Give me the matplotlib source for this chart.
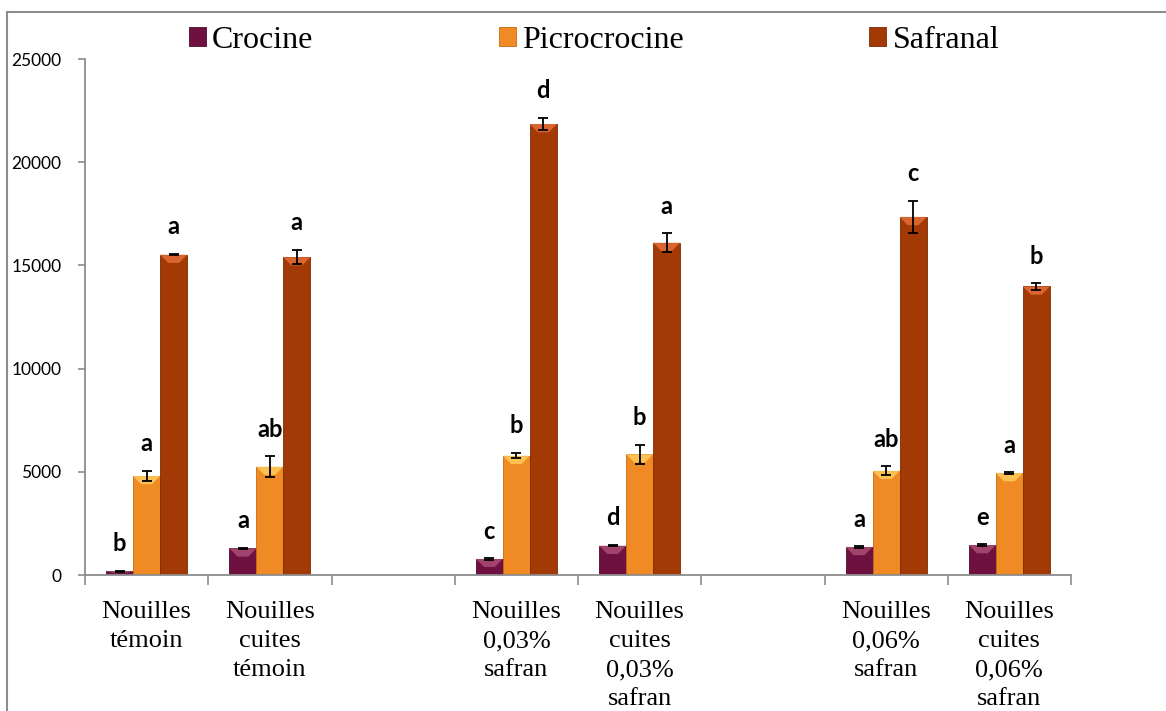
import matplotlib
matplotlib.use("Agg")
import matplotlib.pyplot as plt
import numpy as np
from matplotlib.lines import Line2D
from matplotlib.patches import Patch, Polygon
from matplotlib.ticker import FixedLocator
from matplotlib import font_manager

# ---------------- data ----------------
categories = ["Nouilles\ntémoin", "Nouilles\ncuites\ntémoin", "",
              "Nouilles\n0,03%\nsafran", "Nouilles\ncuites\n0,03%\nsafran", "",
              "Nouilles\n0,06%\nsafran", "Nouilles\ncuites\n0,06%\nsafran"]
series_names = ["Crocine", "Picrocrocine", "Safranal"]

crocine = [180, 1290, np.nan, 780, 1420, np.nan, 1360, 1450]
picrocrocine = [4800, 5250, np.nan, 5780, 5850, np.nan, 5050, 4940]
safranal = [15520, 15400, np.nan, 21850, 16100, np.nan, 17350, 13980]

crocine_err = [30, 30, np.nan, 30, 30, np.nan, 30, 30]
picrocrocine_err = [260, 500, np.nan, 130, 470, np.nan, 210, 30]
safranal_err = [30, 350, np.nan, 300, 450, np.nan, 780, 150]

crocine_letters = ["b", "a", "", "c", "d", "", "a", "e"]
picrocrocine_letters = ["a", "ab", "", "b", "b", "", "ab", "a"]
safranal_letters = ["a", "a", "", "d", "a", "", "c", "b"]

yticks = [0, 5000, 10000, 15000, 20000, 25000]

# ---------------- fonts ----------------
serif_candidates = ["Liberation Serif", "Times New Roman", "DejaVu Serif"]
available = {f.name for f in font_manager.fontManager.ttflist}
serif_font = next((f for f in serif_candidates if f in available), "serif")
sans_font = "Lato" if "Lato" in available else "DejaVu Sans"

# ---------------- style ----------------
colors = ["#6E1040", "#F08A24", "#A33A06"]
tops = ["#B0507A", "#FFD060", "#E8703A"]
edge = ["#4E0A2C", "#C86A10", "#7A2A04"]

W, H = 1166, 711
fig = plt.figure(figsize=(W / 100, H / 100), dpi=100)
ax = fig.add_axes([85 / W, 1 - 575 / H, (1071 - 85) / W, (575 - 59) / H])

values = [crocine, picrocrocine, safranal]
errs = [crocine_err, picrocrocine_err, safranal_err]
letters = [crocine_letters, picrocrocine_letters, safranal_letters]

x = np.arange(len(categories))
bw = 0.219
for i, (vals, er, lab) in enumerate(zip(values, errs, letters)):
    xs = x + (i - 1) * bw
    bars = ax.bar(xs, vals, width=bw, color=colors[i], edgecolor=edge[i],
                  linewidth=0.6, zorder=2)
    ax.errorbar(xs, vals, yerr=er, fmt="none", ecolor="black", elinewidth=1.3,
                capsize=3.8, capthick=1.3, zorder=4)
    # bevel highlight at the top of each bar
    for b, v in zip(bars, vals):
        if np.isnan(v):
            continue
        x0, w = b.get_x(), b.get_width()
        hgt = min(400, v * 0.5)
        tri = Polygon([[x0, v], [x0 + w, v], [x0 + w * 0.7, v - hgt],
                       [x0 + w * 0.3, v - hgt]], closed=True,
                      facecolor=tops[i], edgecolor="none", alpha=0.8, zorder=3)
        ax.add_patch(tri)
    for xx, v, e, t in zip(xs, vals, er, lab):
        if not t:
            continue
        ax.annotate(t, (xx, v + e), xytext=(0, 19.5), textcoords="offset points",
                    ha="center", va="center", fontsize=17, fontweight="bold",
                    family=sans_font, color="black", zorder=5)

ax.set_xlim(-0.5, len(categories) - 0.5)
ax.set_ylim(0, 25000)
ax.set_yticks(yticks)
ax.set_yticklabels([str(v) for v in yticks], fontsize=12.5, family=sans_font)
ax.set_xticks(x)
ax.set_xticklabels(categories, fontproperties=font_manager.FontProperties(family=serif_font, size=19),
                   linespacing=1.4, va="top")
ax.tick_params(axis="x", which="major", length=0, pad=19)
ax.xaxis.set_minor_locator(FixedLocator(np.arange(-0.5, len(categories), 1.0)))
ax.tick_params(axis="x", which="minor", length=7, color="#8C8C8C", width=1.2)
ax.tick_params(axis="y", length=5, color="#8C8C8C", width=1.2, pad=12)

for s in ["top", "right"]:
    ax.spines[s].set_visible(False)
for s in ["left", "bottom"]:
    ax.spines[s].set_color("#8C8C8C")
    ax.spines[s].set_linewidth(1.3)

handles = [Patch(facecolor=c, edgecolor=e, linewidth=0.6) for c, e in zip(colors, edge)]
fig.legend(handles, series_names, loc="center", bbox_to_anchor=(594 / W, 1 - 40 / H),
           ncol=3, frameon=False,
           prop=font_manager.FontProperties(family=serif_font, size=23),
           handlelength=0.53, handleheight=0.53, handletextpad=0.2,
           columnspacing=5.8, borderpad=0.0)

# outer chart border (left and top visible)
fig.add_artist(Line2D([7 / W, 7 / W], [0, 1 - 12 / H], color="#8C8C8C", lw=1.5,
                      transform=fig.transFigure))
fig.add_artist(Line2D([7 / W, 1], [1 - 12 / H, 1 - 12 / H], color="#8C8C8C", lw=1.5,
                      transform=fig.transFigure))

fig.savefig("out.png", dpi=100)
